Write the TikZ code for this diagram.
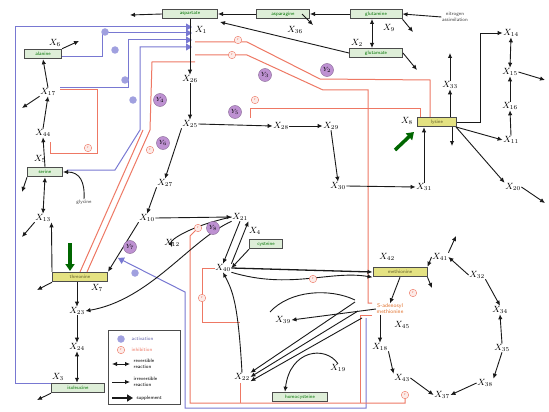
\documentclass[tikz,border=0pt]{standalone}
\usetikzlibrary{arrows.meta}
\definecolor{boxg}{RGB}{222,238,216}
\definecolor{boxy}{RGB}{228,226,130}
\definecolor{redc}{RGB}{238,120,100}
\definecolor{bluec}{RGB}{120,120,210}
\definecolor{purc}{RGB}{190,145,210}
\definecolor{orc}{RGB}{225,110,40}
\begin{document}
\begin{tikzpicture}[x=1pt,y=-1pt,
 lbl/.style={inner sep=0.5pt, font=\fontsize{9}{10}\selectfont},
 gbox/.style={draw=black!70, fill=boxg, text=green!45!black, font=\fontsize{5}{5.5}\sffamily, minimum height=9.5pt, inner sep=1pt, line width=1pt},
 ybox/.style={gbox, fill=boxy, text=olive!60!black},
 ar/.style={-{Latex[length=5pt,width=4.5pt]}, line width=0.9pt, black!90},
 dar/.style={{Latex[length=5pt,width=4.5pt]}-{Latex[length=5pt,width=4.5pt]}, line width=0.9pt, black!90},
 redl/.style={draw=redc, line width=1pt},
 bluel/.style={draw=bluec, line width=1pt},
 bluear/.style={bluel, -{Triangle[length=6pt,width=7pt]}},
 ycirc/.style={circle, fill=purc, draw=purc!70!black, inner sep=0pt, minimum size=13pt, font=\fontsize{6}{6}\selectfont},
 bcirc/.style={circle, fill=bluec!70, inner sep=0pt, minimum size=7.5pt},
 rmark/.style={circle, draw=redc, fill=redc!15, inner sep=0pt, minimum size=7.5pt, font=\fontsize{4}{4}\selectfont, text=redc},
 supp/.style={-{Triangle[length=7pt,width=9pt]}, line width=3.5pt, green!40!black},
 small/.style={font=\fontsize{5}{5.5}\sffamily, inner sep=0.5pt}
]
\useasboundingbox (0,0) rectangle (549,412);
\fill[white] (0,0) rectangle (549,412);

% ---------- lavender (activation) lines ----------
\draw[bluear] (52,383) -- (15,383) -- (15,27) -- (192,27);
\draw[bluear] (62,57) -- (102,57) -- (102,33) -- (192,33);
\draw[bluear] (60,88) -- (128,88) -- (128,40) -- (192,40);
\draw[bluear] (67,170) -- (115,170) -- (140,130) -- (140,47) -- (192,47);
\draw[bluear] (366,318) -- (366,408) -- (185,408) -- (185,292) -- (118,258);

% ---------- red (inhibition) lines ----------
\draw[redl] (430,117) -- (430,80) -- (320,79) -- (247,42) -- (195,42);
\draw[redl] (420,117) -- (420,108) -- (250,108) -- (250,118);
\draw[redl] (372,303) -- (368,303) -- (368,90) -- (323,90) -- (247,55) -- (195,55);
\draw[redl] (87,272) -- (150,130) -- (152,62) -- (195,62);
\draw[redl] (80,272) -- (143,130);
\draw[redl] (60,90) -- (97,90) -- (97,153) -- (50,153) -- (50,142);
\draw[redl] (372,315) -- (360,315) -- (360,403);
\draw[redl] (405,398) -- (405,403) -- (190,403) -- (190,236) -- (196,230);
\draw[redl] (240,383) -- (240,403);
\draw[redl] (215,268) -- (202,268) -- (202,322) -- (240,322);

% ---------- boxes ----------
\node[gbox, minimum width=55pt] (asp) at (190,14) {aspartate};
\node[gbox, minimum width=53pt] (asn) at (283,14) {asparagine};
\node[gbox, minimum width=52pt] (gln) at (376,14) {glutamine};
\node[gbox, minimum width=53pt] (glu) at (376,53) {glutamate};
\node[small, align=center, text=black!75] (nit) at (455,17) {nitrogen\\assimilation};
\node[gbox, minimum width=37pt] (ala) at (43,54) {alanine};
\node[gbox, minimum width=35pt] (ser) at (45,172) {serine};
\node[small, text=black!75] (gly) at (84,202) {glycine};
\node[ybox, minimum width=55pt] (thr) at (80,277) {threonine};
\node[gbox, minimum width=53pt] (ile) at (78,388) {isoleucine};
\node[ybox, minimum width=39pt] (lys) at (437,122) {lysine};
\node[gbox, minimum width=33pt] (cys) at (266,244) {cysteine};
\node[ybox, minimum width=54pt] (met) at (400,272) {methionine};
\node[gbox, minimum width=55pt] (hcy) at (300,397) {homocysteine};
\node[font=\fontsize{5.5}{6}\sffamily, text=orc, align=center, inner sep=0.5pt] (sam) at (390,309) {S-adenosyl\\methionine};

% ---------- X labels ----------
\node[lbl] (x1) at (201,30) {$X_{1}$};
\node[lbl] (x36) at (295,30) {$X_{36}$};
\node[lbl] (x2) at (357,43) {$X_{2}$};
\node[lbl] (x9) at (389,28) {$X_{9}$};
\node[lbl] (x26) at (190,79) {$X_{26}$};
\node[lbl] (x25) at (190,124) {$X_{25}$};
\node[lbl] (x28) at (281,126) {$X_{28}$};
\node[lbl] (x29) at (331,126) {$X_{29}$};
\node[lbl] (x30) at (338,186) {$X_{30}$};
\node[lbl] (x31) at (424,187) {$X_{31}$};
\node[lbl] (x8) at (407,121) {$X_{8}$};
\node[lbl] (x33) at (450,85) {$X_{33}$};
\coordinate (x33t) at (450,53);
\node[lbl] (x14) at (511,33) {$X_{14}$};
\node[lbl] (x15) at (510,72) {$X_{15}$};
\node[lbl] (x16) at (510,106) {$X_{16}$};
\node[lbl] (x11) at (511,140) {$X_{11}$};
\node[lbl] (x20) at (513,187) {$X_{20}$};
\node[lbl] (x6) at (55,43) {$X_{6}$};
\node[lbl] (x17) at (48,92) {$X_{17}$};
\node[lbl] (x44) at (43,133) {$X_{44}$};
\node[lbl] (x5) at (40,159) {$X_{5}$};
\node[lbl] (x13) at (43,218) {$X_{13}$};
\node[lbl] (x7) at (97,288) {$X_{7}$};
\node[lbl] (x23) at (77,311) {$X_{23}$};
\node[lbl] (x24) at (77,347) {$X_{24}$};
\node[lbl] (x3) at (58,377) {$X_{3}$};
\node[lbl] (x27) at (165,183) {$X_{27}$};
\node[lbl] (x10) at (147,218) {$X_{10}$};
\node[lbl] (x21) at (240,217) {$X_{21}$};
\node[lbl] (x4) at (255,231) {$X_{4}$};
\node[lbl] (x12) at (172,243) {$X_{12}$};
\node[lbl] (x40) at (223,268) {$X_{40}$};
\node[lbl] (x22) at (242,377) {$X_{22}$};
\node[lbl] (x39) at (283,320) {$X_{39}$};
\node[lbl] (x19) at (338,368) {$X_{19}$};
\node[lbl] (x42) at (387,257) {$X_{42}$};
\node[lbl] (x41) at (440,257) {$X_{41}$};
\node[lbl] (x32) at (477,275) {$X_{32}$};
\node[lbl] (x34) at (500,310) {$X_{34}$};
\node[lbl] (x35) at (502,348) {$X_{35}$};
\node[lbl] (x38) at (485,383) {$X_{38}$};
\node[lbl] (x37) at (442,395) {$X_{37}$};
\node[lbl] (x43) at (402,378) {$X_{43}$};
\node[lbl] (x18) at (380,347) {$X_{18}$};
\node[lbl] (x45) at (402,325) {$X_{45}$};

% ---------- free ends ----------
\coordinate (aspout) at (130,15);
\coordinate (asnby) at (313,25);
\coordinate (glnby) at (413,32);
\coordinate (gluby) at (417,70);
\coordinate (x15by) at (545,80);
\coordinate (x20by) at (545,203);
\coordinate (lysdn) at (452,146);
\coordinate (alaby) at (79,41);
\coordinate (x17by) at (22,108);
\coordinate (serby) at (22,192);
\coordinate (x13by) at (22,237);
\coordinate (thrby) at (37,290);
\coordinate (ileby) at (37,400);
\coordinate (metby) at (432,288);
\coordinate (x41by) at (456,236);

% ---------- black connectors ----------
\draw[ar] (asp.west) -- (aspout);
\draw[ar] (asn.west) -- (asp.east);
\draw[ar] (gln.west) -- (asn.east);
\draw[ar] (nit.west) -- (gln.east);
\draw[ar] (302,14) -- (asnby);
\draw[dar] (372,19) -- (372,48);
\draw[ar] (gln.south east) -- (glnby);
\draw[ar] (glu.west) -- (220,22);
\draw[ar] (glu.east) -- (gluby);
\draw[ar] (asp.south) -- (x26.north);
\draw[ar] (x26.south) -- (x25.north);
\draw[ar] (x25.east) -- (x28.west);
\draw[ar] (x28.east) -- (x29.west);
\draw[ar] (x29.south) -- (x30.north);
\draw[ar] (x30.east) -- (x31.west);
\draw[ar] (x31.north) -- (lys.south -| x31.north);
\draw[ar] (lys.north -| x33) -- (x33.south);
\draw[ar] (x33.north) -- (x33t);
\draw[ar] (lys.east) -- (480,122) -- (480,33) -- (x14.west);
\draw[dar] (x14.south) -- (x15.north);
\draw[ar] (x15.east) -- (x15by);
\draw[ar] (x16.north) -- (x15.south);
\draw[ar] (x11.north) -- (x16.south);
\draw[ar] (lys.south east) -- (x11.west);
\draw[ar] (452,127) -- (lysdn);
\draw[ar] (456,127) -- (x20.north west);
\draw[ar] (x20.east) -- (x20by);
\draw[supp] (395,150) -- (414,132);

\draw[ar] (ala.north east) -- (alaby);
\draw[ar] (x17.north) -- (ala.south);
\draw[ar] (x17.south west) -- (x17by);
\draw[ar] (x44.north) -- (x17.south);
\draw[ar] (ser.north) -- (x44.south);
\draw[dar] (ser.south) -- (x13.north);
\draw[ar] (ser.south west) -- (serby);
\draw[ar] (x13.south west) -- (x13by);
\draw[ar] (thr.north west) -- (x13.south east);
\draw[ar] (gly.north) .. controls (85,182) and (80,172) .. (ser.east);
\draw[supp] (70,243) -- (70,271);
\draw[ar] (thr.south west) -- (thrby);
\draw[ar] (thr.south -| x23) -- (x23.north);
\draw[ar] (x23.south) -- (x24.north);
\draw[dar] (x24.south) -- (ile.north -| x24);
\draw[ar] (ile.south west) -- (ileby);

\draw[ar] (x25.south west) -- (x27.north);
\draw[ar] (x27.south west) -- (x10.north);
\draw[ar] (x10.east) -- (x21.west);
\draw[ar] (x10.south west) -- (thr.north east);
\draw[ar] (x21.south west) .. controls (190,240) and (150,300) .. (x23.east);
\draw[ar] (x21.west) .. controls (190,226) and (170,240) .. (x12.south);
\draw[ar] (x21.south) -- (x40.north);
\draw[ar] (x40.north east) -- (x21.south east);
\draw[ar] (cys.south west) -- (x40.east);
\draw[ar, line width=1.3pt] (x40.east) -- (met.west);
\draw[ar] (x40.south east) .. controls (290,290) and (330,270) .. (met.south west);
\draw[ar] (x22.north) .. controls (238,300) and (232,290) .. (x40.south);
\draw[ar] (355,302) -- (x22.north east);
\draw[ar] (358,311) -- (x22.east);
\draw[ar] (362,318) -- (x22.south east);
\draw[line width=0.9pt, black!90] (270,312) .. controls (290,290) and (330,288) .. (355,300);
\draw[ar] (sam.west) -- (x39.east);
\draw[ar] (x19.north) .. controls (325,345) and (290,350) .. (hcy.north -| 285,0);

\draw[ar] (met.south) -- (sam.north);
\draw[ar] (met.south east) -- (metby);
\draw[ar] (sam.south -| x18) -- (x18.north);
\draw[ar] (x18.south east) -- (x43.north west);
\draw[ar] (x43.east) -- (x37.west);
\draw[ar] (x38.west) -- (x37.east);
\draw[ar] (x35.south) -- (x38.north east);
\draw[ar] (x35.north) -- (x34.south);
\draw[ar] (x32.south east) -- (x34.north);
\draw[ar] (x32.west) -- (x41.east);
\draw[ar] (x41.north east) -- (x41by);
\draw[ar] (x41.west) -- (met.north east);

% ---------- markers ----------
\node[bcirc] (b1) at (105,32) {};
\node[bcirc] (b2) at (115,50) {};
\node[bcirc] (b3) at (125,80) {};
\node[bcirc] (b4) at (133,100) {};
\node[bcirc] (b5) at (135,273) {};
\node[rmark] (r1) at (238,40) {r};
\node[rmark] (r2) at (232,55) {r};
\node[rmark] (r3) at (255,100) {r};
\node[rmark] (r4) at (150,150) {r};
\node[rmark] (r5) at (88,148) {r};
\node[rmark] (r6) at (198,228) {r};
\node[rmark] (r7) at (202,298) {r};
\node[rmark] (r8) at (313,279) {r};
\node[rmark] (r9) at (413,293) {r};
\node[rmark] (r10) at (405,395) {r};
\node[ycirc] (y1) at (160,100) {$Y_{4}$};
\node[ycirc] (y2) at (265,75) {$Y_{3}$};
\node[ycirc] (y3) at (327,70) {$Y_{2}$};
\node[ycirc] (y4) at (235,112) {$Y_{5}$};
\node[ycirc] (y5) at (163,143) {$Y_{6}$};
\node[ycirc] (y6) at (213,228) {$Y_{8}$};
\node[ycirc] (y7) at (130,247) {$Y_{7}$};

% ---------- legend ----------
\node[draw=black!70, line width=1pt, fill=white, minimum width=72pt, minimum height=74pt, inner sep=0pt] (leg) at (144,367) {};
\node[bcirc] (lb) at (121,339) {};
\node[small, text=bluec!80!black, anchor=west] (lbt) at (131,339) {activation};
\node[rmark] (lr) at (121,350) {r};
\node[small, text=redc, anchor=west] (lrt) at (131,350) {inhibition};
\coordinate (ld1) at (112,364); \coordinate (ld2) at (130,364);
\draw[dar] (ld1) -- (ld2);
\node[small, align=left, anchor=west] (ldt) at (133,364) {reversible\\reaction};
\coordinate (li1) at (112,382); \coordinate (li2) at (130,382);
\draw[ar] (li1) -- (li2);
\node[small, align=left, anchor=west] (lit) at (133,382) {irreversible\\reaction};
\coordinate (ls1) at (112,398); \coordinate (ls2) at (133,398);
\draw[-{Triangle[length=6pt,width=7pt]}, line width=2pt, black!90] (ls1) -- (ls2);
\node[small, anchor=west] (lst) at (136,398) {supplement};
\end{tikzpicture}
\end{document}
